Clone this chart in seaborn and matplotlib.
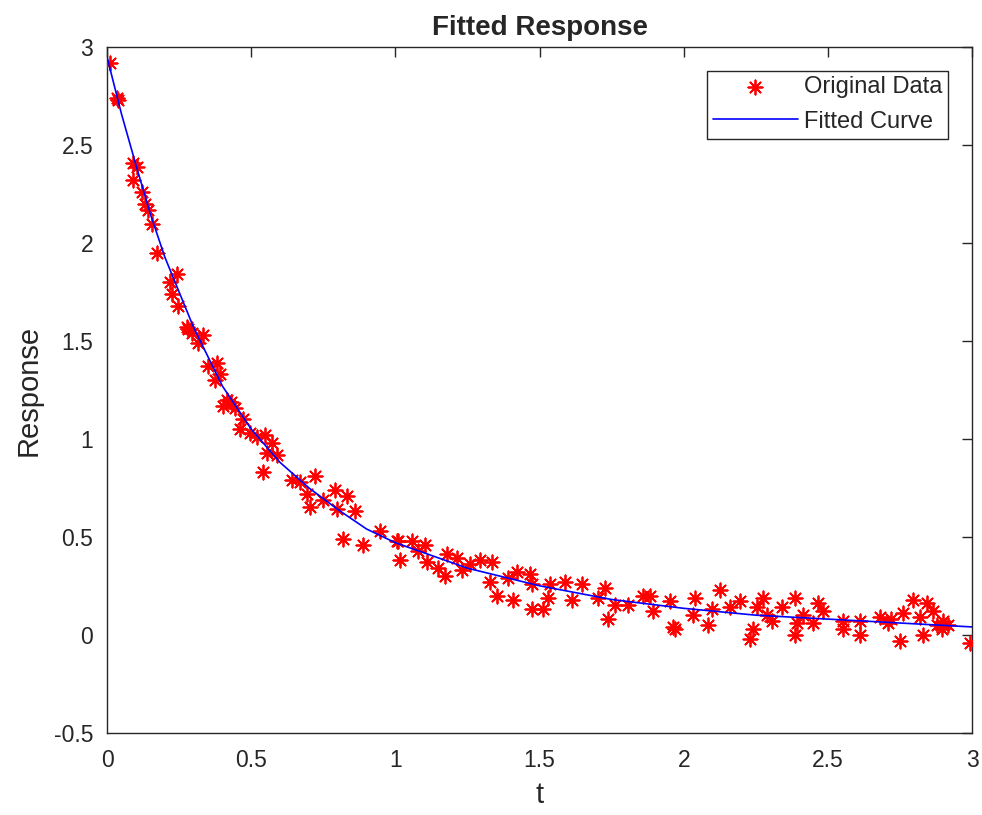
import pandas as pd
import matplotlib
matplotlib.use("Agg")
import matplotlib.pyplot as plt
import seaborn as sns

# -------------------------------
# Data
# -------------------------------
t_data = [0.010, 0.035, 0.038, 0.090, 0.104, 0.090, 0.121, 0.132, 0.142, 0.156,
          0.173, 0.243, 0.219, 0.225, 0.246, 0.277, 0.281, 0.295, 0.316, 0.333,
          0.350, 0.375, 0.381, 0.390, 0.402, 0.416, 0.430, 0.444, 0.461, 0.496,
          0.548, 0.572, 0.555, 0.590, 0.541, 0.669, 0.721, 0.694, 0.704, 0.749,
          0.791, 0.832, 0.798, 0.860, 0.819, 0.888, 0.947, 1.006, 1.009, 1.016,
          1.058, 1.103, 1.110, 1.148, 1.172, 1.179, 1.214, 1.259, 1.294, 1.335,
          1.328, 1.353, 1.408, 1.422, 1.467, 1.474, 1.474, 1.512, 1.537, 1.530,
          1.589, 1.613, 1.648, 1.703, 1.727, 1.762, 1.738, 1.807, 1.859, 1.883,
          1.894, 1.953, 1.970, 2.040, 2.033, 2.085, 2.098, 2.126, 2.196, 2.230,
          2.241, 2.255, 2.275, 2.307, 2.341, 2.386, 2.386, 2.393, 2.414, 2.449,
          2.466, 2.484, 2.553, 2.553, 2.612, 2.612, 2.681, 2.709, 2.751, 2.761,
          2.796, 2.820, 2.830, 2.844, 2.865, 2.879, 2.896, 2.917, 2.993, 1.963,
          0.470, 0.520, 0.640, 1.080, 1.230, 1.390, 2.160, 2.290, 2.720, 2.900]
y_data = [2.92, 2.74, 2.73, 2.41, 2.39, 2.32, 2.26, 2.20, 2.17, 2.10,
          1.95, 1.84, 1.80, 1.74, 1.68, 1.57, 1.56, 1.54, 1.49, 1.53,
          1.37, 1.30, 1.39, 1.33, 1.17, 1.20, 1.19, 1.16, 1.05, 1.03,
          1.02, 0.98, 0.93, 0.92, 0.83, 0.78, 0.81, 0.72, 0.65, 0.69,
          0.74, 0.71, 0.64, 0.63, 0.49, 0.46, 0.53, 0.48, 0.48, 0.38,
          0.48, 0.46, 0.37, 0.34, 0.30, 0.41, 0.39, 0.36, 0.38, 0.37,
          0.27, 0.20, 0.18, 0.32, 0.31, 0.26, 0.13, 0.13, 0.26, 0.19,
          0.27, 0.18, 0.26, 0.19, 0.24, 0.15, 0.08, 0.15, 0.20, 0.20,
          0.12, 0.17, 0.03, 0.19, 0.10, 0.05, 0.13, 0.23, 0.17, -0.02,
          0.03, 0.14, 0.19, 0.07, 0.14, 0.19, 0.00, 0.06, 0.10, 0.06,
          0.16, 0.12, 0.07, 0.03, 0.07, 0.00, 0.09, 0.06, -0.03, 0.11,
          0.18, 0.09, 0.00, 0.16, 0.12, 0.05, 0.03, 0.05, -0.04, 0.04,
          1.10, 1.01, 0.79, 0.43, 0.33, 0.29, 0.14, 0.10, 0.08, 0.07]

t_fit = [0.0, 0.05, 0.10, 0.15, 0.20, 0.30, 0.40, 0.50, 0.60, 0.70,
         0.80, 0.90, 1.00, 1.25, 1.50, 1.75, 2.00, 2.25, 2.50, 2.75, 3.00]
y_fit = [2.95, 2.66, 2.40, 2.15, 1.93, 1.57, 1.27, 1.05, 0.88, 0.75,
         0.64, 0.54, 0.47, 0.34, 0.25, 0.18, 0.135, 0.10, 0.08, 0.06, 0.04]

x_ticks = [0, 0.5, 1, 1.5, 2, 2.5, 3]
x_labels = ["0", "0.5", "1", "1.5", "2", "2.5", "3"]
y_ticks = [-0.5, 0, 0.5, 1, 1.5, 2, 2.5, 3]
y_labels = ["-0.5", "0", "0.5", "1", "1.5", "2", "2.5", "3"]

df_data = pd.DataFrame({"t": t_data, "Response": y_data})
df_fit = pd.DataFrame({"t": t_fit, "Response": y_fit})

# -------------------------------
# Plot
# -------------------------------
sns.set_style("white")
plt.rcParams["font.family"] = ["Liberation Sans", "DejaVu Sans"]

fig = plt.figure(figsize=(9.82, 8.15), dpi=100)
ax = fig.add_axes([0.109, 0.101, 0.881, 0.841])

sns.scatterplot(x="t", y="Response", data=df_data, ax=ax, marker=(8, 2, 0),
                color="red", edgecolor="red", s=105, linewidth=1.3,
                label="Original Data", zorder=3)
sns.lineplot(x="t", y="Response", data=df_fit, ax=ax, color="blue",
             linewidth=1.2, label="Fitted Curve", zorder=4)

ax.set_xlim(0, 3)
ax.set_ylim(-0.5, 3)
ax.set_xticks(x_ticks)
ax.set_xticklabels(x_labels)
ax.set_yticks(y_ticks)
ax.set_yticklabels(y_labels)
ax.tick_params(direction="in", length=7, width=1, colors="#262626",
               labelsize=16.5, top=True, right=True)
ax.tick_params(axis="x", pad=12)
ax.tick_params(axis="y", pad=10)
for side in ax.spines.values():
    side.set_color("#262626")
    side.set_linewidth(1)

ax.set_title("Fitted Response", fontsize=20, fontweight="bold", pad=9)
ax.set_xlabel("t", fontsize=21, color="#262626", labelpad=6)
ax.set_ylabel("Response", fontsize=21, color="#262626", labelpad=8)

leg = ax.legend(loc="upper right", bbox_to_anchor=(0.972, 0.966),
                borderaxespad=0, fontsize=17, frameon=True, fancybox=False,
                edgecolor="#262626", framealpha=1, handlelength=3.6,
                handletextpad=0.25, borderpad=0.25, labelspacing=0.52)
leg.get_frame().set_linewidth(1)

plt.savefig("out.png", dpi=100)
